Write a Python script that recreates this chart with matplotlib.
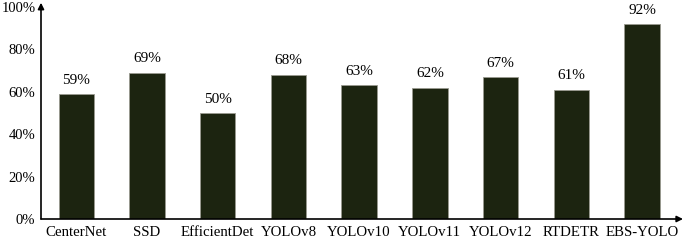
import matplotlib
matplotlib.use('Agg')
import matplotlib.pyplot as plt

models = ['CenterNet', 'SSD', 'EfficientDet', 'YOLOv8', 'YOLOv10', 'YOLOv11',
          'YOLOv12', 'RTDETR', 'EBS-YOLO']
values = [59, 69, 50, 68, 63, 62, 67, 61, 92]
yticks = [0, 20, 40, 60, 80, 100]

plt.rcParams['font.family'] = ['Liberation Serif', 'DejaVu Serif']

fig = plt.figure(figsize=(6.85, 2.42), dpi=100)
ax = fig.add_axes([41 / 685, 1 - 219 / 242, 642 / 685, 212 / 242])

x = range(len(models))
ax.bar(x, values, width=0.5, color='#1c2410', edgecolor='#9a9a90', linewidth=0.6)
for i, v in zip(x, values):
    ax.text(i, v + 3.5, f'{v}%', ha='center', va='bottom', fontsize=11)

ax.set_xlim(-0.5, 8.58)
ax.set_ylim(0, 100)
ax.set_xticks(list(x))
ax.set_xticklabels(models, fontsize=10.7)
ax.set_yticks(yticks)
ax.set_yticklabels([f'{t}%' for t in yticks], fontsize=10.5)
ax.tick_params(axis='y', length=0, pad=4)
ax.tick_params(axis='x', length=0, pad=5)
for s in ax.spines.values():
    s.set_visible(False)

# axis arrows
ax.annotate('', xy=(0, 1.02), xytext=(0, 0), xycoords='axes fraction',
            arrowprops=dict(arrowstyle='-|>', color='black', lw=1.2, mutation_scale=9,
                            shrinkA=0, shrinkB=0), annotation_clip=False)
ax.annotate('', xy=(1.0, 0), xytext=(0, 0), xycoords='axes fraction',
            arrowprops=dict(arrowstyle='-|>', color='black', lw=1.2, mutation_scale=9,
                            shrinkA=0, shrinkB=0), annotation_clip=False)

fig.savefig('out.png', dpi=100)
